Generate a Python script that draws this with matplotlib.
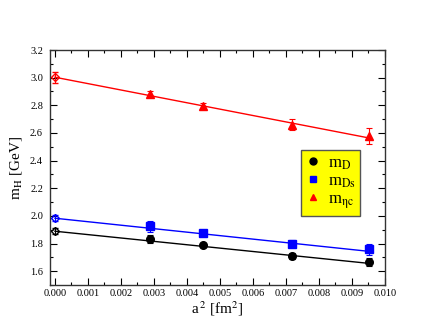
import numpy as np
import matplotlib.pyplot as plt
from matplotlib.ticker import MultipleLocator
from matplotlib.lines import Line2D

plt.rcParams['font.family'] = ['Liberation Serif', 'DejaVu Serif']
plt.rcParams['mathtext.fontset'] = 'stix'

# lattice spacings squared [fm^2]
a2 = [0.00288, 0.00449, 0.00717, 0.00953]

# masses [GeV] and errors
m_D = [1.834, 1.788, 1.711, 1.668]
e_D = [0.03, 0.015, 0.02, 0.03]
m_Ds = [1.925, 1.875, 1.800, 1.757]
e_Ds = [0.04, 0.015, 0.025, 0.04]
m_etac = [2.885, 2.795, 2.659, 2.578]
e_etac = [0.02, 0.025, 0.04, 0.06]

# continuum extrapolations (a^2 = 0)
cont_D, cont_D_err = 1.889, 0.02
cont_Ds, cont_Ds_err = 1.983, 0.02
cont_etac, cont_etac_err = 3.003, 0.04

# fit line values at a^2 = 0 and a^2 = 0.00953
fit_x = [0.0, 0.00953]
fit_D = [1.889, 1.656]
fit_Ds = [1.983, 1.743]
fit_etac = [3.003, 2.563]

fig = plt.figure(figsize=(4.34, 3.36), dpi=100)
ax = fig.add_axes([50 / 434, 51 / 336, 335 / 434, 235 / 336])

series = [
    (m_D, e_D, cont_D, cont_D_err, fit_D, 'black', 'o', r'm$_{\rm D}$'),
    (m_Ds, e_Ds, cont_Ds, cont_Ds_err, fit_Ds, 'blue', 's', r'm$_{\rm Ds}$'),
    (m_etac, e_etac, cont_etac, cont_etac_err, fit_etac, 'red', '^', r'm$_{\mathrm{ηc}}$'),
]

handles = []
for m, e, c, ce, fit, col, mk, lab in series:
    ax.plot(fit_x, fit, color=col, lw=1.0, zorder=2)
    ax.errorbar(a2, m, yerr=e, fmt=mk, color=col, ms=5.5, capsize=2.5,
                elinewidth=0.8, capthick=0.8, zorder=3)
    ax.errorbar([0.0], [c], yerr=[ce], fmt='D', mfc='none', mec=col, mew=1.0,
                color=col, ms=4, capsize=2.5, elinewidth=0.8, capthick=0.8, zorder=3)
    handles.append(Line2D([], [], ls='none', marker=mk, color=col, ms=5, label=lab))

ax.set_xlim(-0.00015, 0.010)
ax.set_ylim(1.5, 3.2)
ax.xaxis.set_major_locator(MultipleLocator(0.001))
ax.xaxis.set_minor_locator(MultipleLocator(0.0005))
ax.yaxis.set_major_locator(MultipleLocator(0.2))
ax.yaxis.set_minor_locator(MultipleLocator(0.1))
ax.xaxis.set_major_formatter(plt.FuncFormatter(lambda v, p: f"{v:.3f}"))
ax.yaxis.set_major_formatter(plt.FuncFormatter(lambda v, p: f"{v:.1f}"))
ax.tick_params(which='both', direction='in', top=True, right=True, labelsize=7.5, width=0.8)
ax.tick_params(which='major', length=5, pad=3)
ax.tick_params(which='minor', length=2.5)
ax.tick_params(axis='y', pad=5)
for s in ax.spines.values():
    s.set_linewidth(1.0)
    s.set_color('#333333')

ax.set_xlabel(r'a$^{\,2}$ [fm$^{2}$]', fontsize=11, labelpad=1)
ax.set_ylabel(r'm$_{\rm H}$ [GeV]', fontsize=11, labelpad=4)

leg = ax.legend(handles=handles, loc='upper left', bbox_to_anchor=(0.749, 0.574),
                borderaxespad=0, frameon=True, fancybox=False, fontsize=12,
                handlelength=0.8, handletextpad=0.5, borderpad=0.3, labelspacing=0.1)
leg.get_frame().set_facecolor('yellow')
leg.get_frame().set_edgecolor('#555555')
leg.get_frame().set_alpha(1.0)

fig.savefig('out.png', dpi=100)
